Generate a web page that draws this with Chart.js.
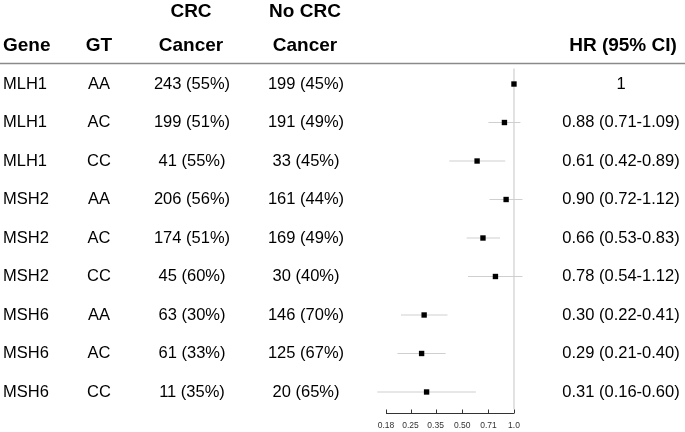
<!DOCTYPE html>
<html>
<head>
<meta charset="utf-8">
<script src="https://cdn.jsdelivr.net/npm/chart.js@4"></script>
<style>
  html, body { margin: 0; padding: 0; background: #fff; }
  #wrap { width: 685px; height: 432px; }
</style>
</head>
<body>
<div id="wrap"><canvas id="forest"></canvas></div>
<script>
// table / plot data
const genes = ['MLH1', 'MLH1', 'MLH1', 'MSH2', 'MSH2', 'MSH2', 'MSH6', 'MSH6', 'MSH6'];
const genotypes = ['AA', 'AC', 'CC', 'AA', 'AC', 'CC', 'AA', 'AC', 'CC'];
const crcCancer = ['243 (55%)', '199 (51%)', '41 (55%)', '206 (56%)', '174 (51%)', '45 (60%)', '63 (30%)', '61 (33%)', '11 (35%)'];
const noCrcCancer = ['199 (45%)', '191 (49%)', '33 (45%)', '161 (44%)', '169 (49%)', '30 (40%)', '146 (70%)', '125 (67%)', '20 (65%)'];
const hr = [1, 0.88, 0.61, 0.90, 0.66, 0.78, 0.30, 0.29, 0.31];
const ciLow = [null, 0.71, 0.42, 0.72, 0.53, 0.54, 0.22, 0.21, 0.16];
const ciHigh = [null, 1.09, 0.89, 1.12, 0.83, 1.12, 0.41, 0.40, 0.60];
const hrLabels = ['1', '0.88 (0.71-1.09)', '0.61 (0.42-0.89)', '0.90 (0.72-1.12)', '0.66 (0.53-0.83)', '0.78 (0.54-1.12)', '0.30 (0.22-0.41)', '0.29 (0.21-0.40)', '0.31 (0.16-0.60)'];
const xTicks = [0.18, 0.25, 0.35, 0.50, 0.71, 1.0];
const xTickLabels = ['0.18', '0.25', '0.35', '0.50', '0.71', '1.0'];

// CI whiskers, one small line dataset per row
const ciSets = hr.map((v, i) => ({
    type: 'line',
    data: ciLow[i] == null ? [] : [{ x: ciLow[i], y: i }, { x: ciHigh[i], y: i }],
    borderColor: '#cfcfcf',
    borderWidth: 1.2,
    pointRadius: 0,
    order: 2
}));

// draws the text columns and the bottom axis
const tablePlugin = {
    id: 'tablePlugin',
    afterDraw(chart) {
        const ctx = chart.ctx;
        const xs = chart.scales.x;
        const ys = chart.scales.y;
        ctx.save();
        ctx.fillStyle = '#000';
        ctx.textBaseline = 'middle';

        // header
        ctx.font = 'bold 19px "Liberation Sans", Arial, sans-serif';
        ctx.textAlign = 'center';
        ctx.fillText('CRC', 191, 12);
        ctx.fillText('No CRC', 305, 12);
        ctx.fillText('Cancer', 191, 46);
        ctx.fillText('Cancer', 305, 46);
        ctx.fillText('GT', 99, 46);
        ctx.fillText('HR (95% CI)', 623, 46);
        ctx.textAlign = 'left';
        ctx.fillText('Gene', 3, 46);

        ctx.strokeStyle = '#8a8a8a';
        ctx.lineWidth = 1.5;
        ctx.beginPath();
        ctx.moveTo(0, 63.5);
        ctx.lineTo(685, 63.5);
        ctx.stroke();

        // rows
        ctx.font = '16.5px "Liberation Sans", Arial, sans-serif';
        genes.forEach((g, i) => {
            const y = ys.getPixelForValue(i);
            ctx.textAlign = 'left';
            ctx.fillText(g, 3, y);
            ctx.textAlign = 'center';
            ctx.fillText(genotypes[i], 99, y);
            ctx.fillText(crcCancer[i], 192, y);
            ctx.fillText(noCrcCancer[i], 306, y);
            ctx.fillText(hrLabels[i], 621, y);
        });

        // x axis, only from first to last tick
        const axisY = 413.5;
        ctx.strokeStyle = '#333';
        ctx.lineWidth = 1;
        ctx.beginPath();
        ctx.moveTo(xs.getPixelForValue(xTicks[0]), axisY);
        ctx.lineTo(xs.getPixelForValue(xTicks[xTicks.length - 1]), axisY);
        xTicks.forEach(t => {
            const px = Math.round(xs.getPixelForValue(t)) + 0.5;
            ctx.moveTo(px, axisY);
            ctx.lineTo(px, axisY - 4);
        });
        ctx.stroke();
        ctx.font = '8.5px "Liberation Sans", Arial, sans-serif';
        ctx.fillStyle = '#333';
        xTicks.forEach((t, i) => {
            ctx.fillText(xTickLabels[i], xs.getPixelForValue(t), 426);
        });
        ctx.restore();
    }
};

new Chart(document.getElementById('forest'), {
    type: 'scatter',
    data: {
        datasets: [
            {
                type: 'line',
                data: [{ x: 1, y: -0.4 }, { x: 1, y: 8.45 }],
                borderColor: '#d9d9d9',
                borderWidth: 1.5,
                pointRadius: 0,
                order: 3
            },
            ...ciSets,
            {
                data: hr.map((v, i) => ({ x: v, y: i })),
                pointStyle: 'rect',
                pointRadius: 3.8,
                backgroundColor: '#000',
                borderColor: '#000',
                borderWidth: 0,
                order: 1
            }
        ]
    },
    options: {
        responsive: true,
        maintainAspectRatio: false,
        animation: false,
        layout: { padding: { left: 360, right: 125, top: 65, bottom: 22 } },
        plugins: { legend: { display: false }, tooltip: { enabled: false } },
        scales: {
            x: { type: 'logarithmic', min: 0.127, max: 1.853, display: false },
            y: { type: 'linear', min: -0.494, max: 8.468, reverse: true, display: false }
        }
    },
    plugins: [tablePlugin]
});
</script>
</body>
</html>
